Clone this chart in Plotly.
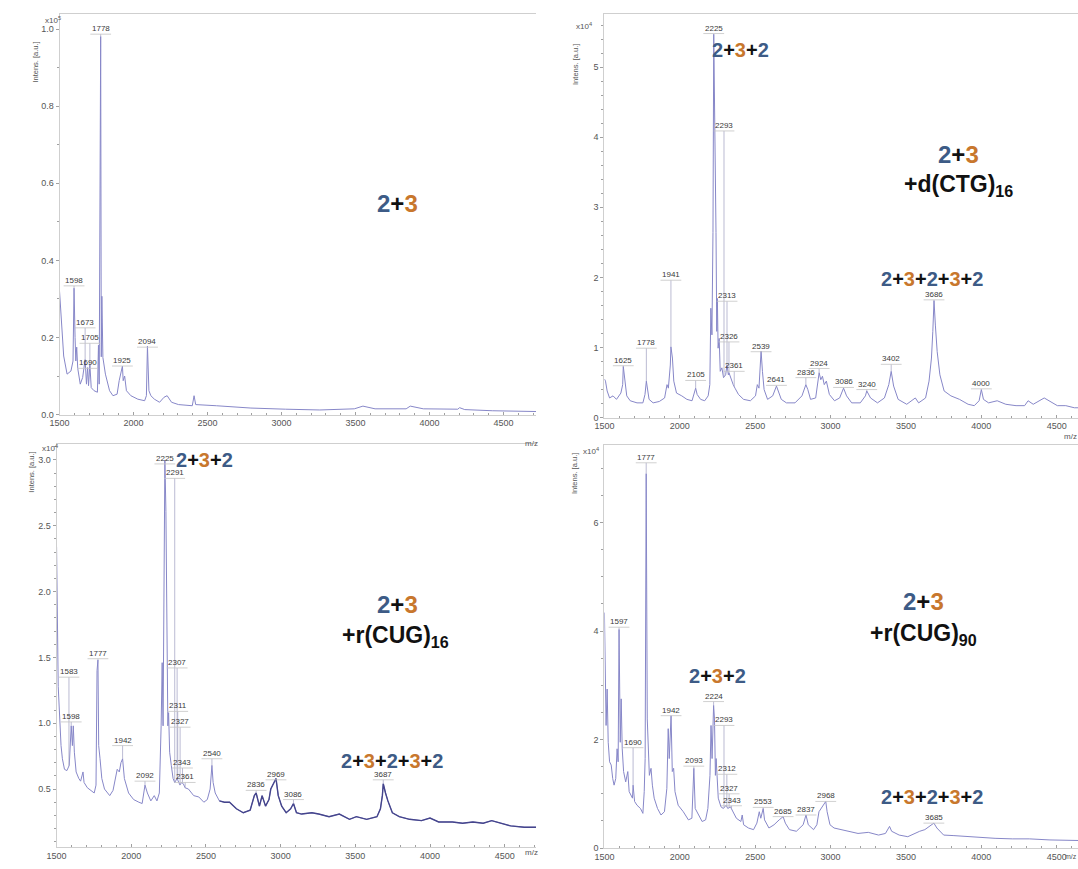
import numpy as np
import plotly.graph_objects as go

W, H = 1078, 869

# ---------------- spectra: m/z and intensity (axis units) ----------------
# panel 1: 2+3  (x10^5)
mz1 = [1500, 1512, 1528, 1551, 1577, 1591, 1598, 1605, 1610, 1616, 1623, 1640, 1656, 1673, 1682,
       1690, 1696, 1705, 1714, 1733, 1756, 1763, 1768, 1778, 1782, 1786, 1793, 1810, 1838, 1861,
       1889, 1903, 1925, 1930, 1940, 1952, 1982, 2029, 2075, 2087, 2094, 2104, 2117, 2141, 2176,
       2206, 2227, 2257, 2304, 2397, 2409, 2420, 2560, 2793, 3026, 3259, 3492, 3550, 3632, 3842,
       3870, 3958, 4191, 4203, 4238, 4424, 4720]
in1 = [0.320, 0.251, 0.152, 0.105, 0.113, 0.139, 0.328, 0.200, 0.139, 0.175, 0.120, 0.079, 0.096,
       0.143, 0.079, 0.122, 0.075, 0.130, 0.070, 0.062, 0.058, 0.180, 0.079, 0.981, 0.150, 0.307,
       0.148, 0.105, 0.062, 0.049, 0.053, 0.088, 0.126, 0.088, 0.100, 0.062, 0.049, 0.040, 0.036,
       0.049, 0.178, 0.062, 0.049, 0.040, 0.032, 0.045, 0.049, 0.032, 0.026, 0.023, 0.049, 0.026,
       0.023, 0.017, 0.014, 0.012, 0.015, 0.022, 0.015, 0.015, 0.022, 0.015, 0.014, 0.018, 0.013,
       0.010, 0.008]

# panel 2: 2+3 + d(CTG)16  (x10^4)
mz2 = [1500, 1507, 1518, 1534, 1557, 1580, 1609, 1621, 1625, 1637, 1648, 1671, 1716, 1755, 1769,
       1778, 1785, 1796, 1823, 1864, 1899, 1915, 1924, 1937, 1941, 1951, 1960, 1978, 2013, 2047,
       2081, 2097, 2105, 2115, 2138, 2165, 2188, 2199, 2206, 2213, 2220, 2225, 2234, 2240, 2245,
       2249, 2254, 2261, 2268, 2279, 2290, 2304, 2313, 2322, 2326, 2343, 2354, 2366, 2389, 2423,
       2468, 2502, 2514, 2525, 2539, 2548, 2559, 2582, 2616, 2641, 2653, 2673, 2707, 2764, 2810,
       2836, 2849, 2867, 2901, 2912, 2924, 2935, 2946, 2958, 2972, 2992, 3026, 3060, 3086, 3106,
       3140, 3197, 3231, 3240, 3265, 3311, 3357, 3386, 3402, 3418, 3448, 3505, 3562, 3584, 3630,
       3653, 3669, 3678, 3686, 3695, 3707, 3725, 3753, 3798, 3855, 3912, 3953, 3985, 4000, 4014,
       4048, 4105, 4162, 4230, 4287, 4310, 4344, 4417, 4447, 4504, 4560, 4617, 4641]
in2 = [0.55, 0.52, 0.38, 0.28, 0.31, 0.26, 0.35, 0.47, 0.73, 0.47, 0.31, 0.24, 0.21, 0.21, 0.33,
       0.52, 0.40, 0.26, 0.21, 0.23, 0.28, 0.47, 0.42, 0.75, 1.01, 0.85, 0.52, 0.35, 0.31, 0.26,
       0.24, 0.35, 0.42, 0.33, 0.26, 0.24, 0.31, 0.47, 1.56, 1.18, 2.64, 5.47, 4.15, 2.64, 1.23,
       1.70, 0.99, 1.13, 0.66, 0.71, 0.57, 0.61, 0.75, 0.61, 0.64, 0.52, 0.47, 0.42, 0.33, 0.26,
       0.24, 0.31, 0.47, 0.42, 0.95, 0.66, 0.40, 0.26, 0.31, 0.45, 0.38, 0.26, 0.21, 0.21, 0.31,
       0.47, 0.40, 0.26, 0.28, 0.47, 0.64, 0.54, 0.59, 0.47, 0.52, 0.33, 0.24, 0.28, 0.42, 0.31,
       0.21, 0.21, 0.31, 0.38, 0.28, 0.21, 0.28, 0.47, 0.66, 0.45, 0.26, 0.19, 0.28, 0.21, 0.28,
       0.52, 0.85, 1.23, 1.67, 1.32, 0.94, 0.61, 0.38, 0.31, 0.26, 0.19, 0.17, 0.24, 0.40, 0.26,
       0.21, 0.24, 0.19, 0.17, 0.17, 0.24, 0.19, 0.28, 0.24, 0.17, 0.17, 0.14, 0.14]

# panel 3: 2+3 + r(CUG)16  (x10^4)
mz3 = [1500, 1505, 1511, 1530, 1539, 1553, 1569, 1585, 1592, 1598, 1606, 1612, 1619, 1631, 1649,
       1661, 1677, 1684, 1706, 1729, 1752, 1764, 1771, 1777, 1782, 1791, 1803, 1821, 1856, 1878,
       1906, 1920, 1931, 1942, 1954, 1982, 2016, 2051, 2073, 2092, 2108, 2131, 2154, 2172, 2188,
       2200, 2207, 2213, 2225, 2232, 2239, 2245, 2250, 2257, 2268, 2280, 2291, 2307, 2326, 2337,
       2349, 2360, 2383, 2418, 2452, 2486, 2509, 2528, 2540, 2548, 2562, 2590, 2624, 2658, 2704,
       2750, 2796, 2824, 2836, 2858, 2876, 2899, 2922, 2934, 2957, 2969, 2984, 3007, 3037, 3067,
       3086, 3106, 3140, 3209, 3255, 3324, 3393, 3461, 3507, 3576, 3645, 3668, 3681, 3687, 3702,
       3718, 3748, 3794, 3863, 3943, 4000, 4058, 4150, 4218, 4287, 4356, 4413, 4471, 4540, 4631,
       4710]
in3 = [2.34, 1.48, 1.28, 0.83, 0.73, 0.65, 0.64, 0.68, 0.83, 0.98, 0.83, 0.98, 0.78, 0.63, 0.58,
       0.56, 0.63, 0.55, 0.51, 0.49, 0.47, 0.53, 1.40, 1.48, 0.83, 0.73, 0.58, 0.50, 0.45, 0.49,
       0.65, 0.63, 0.70, 0.73, 0.58, 0.47, 0.42, 0.40, 0.39, 0.53, 0.47, 0.41, 0.45, 0.41, 0.47,
       0.98, 1.46, 0.98, 3.00, 2.61, 1.76, 0.98, 1.08, 0.78, 0.68, 0.58, 0.55, 0.58, 0.53, 0.55,
       0.54, 0.51, 0.50, 0.45, 0.44, 0.40, 0.42, 0.50, 0.68, 0.55, 0.47, 0.41, 0.40, 0.40, 0.35,
       0.32, 0.34, 0.45, 0.47, 0.37, 0.45, 0.37, 0.42, 0.50, 0.55, 0.58, 0.45, 0.37, 0.32, 0.35,
       0.39, 0.32, 0.31, 0.32, 0.31, 0.29, 0.31, 0.27, 0.29, 0.27, 0.29, 0.35, 0.45, 0.54, 0.47,
       0.41, 0.32, 0.29, 0.27, 0.26, 0.28, 0.25, 0.25, 0.24, 0.25, 0.24, 0.26, 0.24, 0.22, 0.21,
       0.21]

# panel 4: 2+3 + r(CUG)90  (x10^4)
mz4 = [1500, 1505, 1511, 1518, 1525, 1534, 1545, 1555, 1564, 1575, 1584, 1591, 1597, 1605, 1611,
       1618, 1627, 1641, 1655, 1664, 1675, 1686, 1690, 1700, 1716, 1739, 1755, 1764, 1770, 1777,
       1784, 1791, 1798, 1809, 1818, 1830, 1852, 1875, 1898, 1914, 1923, 1930, 1942, 1950, 1959,
       1968, 1989, 2023, 2057, 2080, 2093, 2102, 2125, 2148, 2171, 2186, 2200, 2207, 2214, 2224,
       2230, 2236, 2241, 2248, 2255, 2273, 2289, 2307, 2318, 2336, 2352, 2375, 2405, 2414, 2423,
       2455, 2489, 2511, 2527, 2537, 2553, 2562, 2591, 2625, 2659, 2685, 2700, 2727, 2773, 2818,
       2837, 2852, 2887, 2909, 2923, 2937, 2950, 2968, 2977, 2996, 3023, 3068, 3114, 3182, 3250,
       3318, 3364, 3391, 3405, 3455, 3512, 3557, 3591, 3625, 3659, 3685, 3705, 3750, 3818, 3909,
       4000, 4091, 4205, 4318, 4455, 4569, 4641]
in4 = [4.34, 3.48, 2.26, 2.93, 1.95, 1.59, 1.53, 1.28, 1.16, 1.28, 1.83, 1.59, 4.03, 1.95, 2.75,
       1.83, 1.41, 1.22, 1.41, 1.04, 0.98, 0.92, 1.16, 0.86, 0.79, 0.73, 0.64, 1.04, 1.65, 6.90,
       2.38, 1.65, 1.34, 1.47, 1.16, 0.92, 0.73, 0.61, 0.67, 1.10, 2.20, 1.65, 2.44, 1.41, 1.47,
       1.04, 0.79, 0.67, 0.52, 0.55, 1.47, 0.73, 0.61, 0.49, 0.52, 0.73, 1.34, 2.26, 1.65, 2.63,
       2.38, 1.34, 1.65, 1.16, 0.92, 0.76, 0.73, 0.79, 0.73, 0.76, 0.67, 0.55, 0.49, 0.61, 0.43,
       0.37, 0.34, 0.46, 0.67, 0.55, 0.73, 0.52, 0.37, 0.43, 0.52, 0.58, 0.46, 0.34, 0.31, 0.43,
       0.61, 0.43, 0.34, 0.43, 0.67, 0.73, 0.79, 0.86, 0.67, 0.43, 0.37, 0.34, 0.31, 0.27, 0.29,
       0.24, 0.27, 0.40, 0.31, 0.24, 0.21, 0.27, 0.31, 0.34, 0.40, 0.46, 0.37, 0.24, 0.23, 0.21,
       0.20, 0.18, 0.17, 0.17, 0.15, 0.15, 0.14]

# ---------------- peak labels (m/z) and label heights ----------------
pk1 = [1598, 1673, 1690, 1705, 1778, 1925, 2094]
pk1_y = [0.334, 0.225, 0.120, 0.185, 0.987, 0.126, 0.175]

pk2 = [1625, 1778, 1941, 2105, 2225, 2293, 2313, 2326, 2361, 2539, 2641, 2836, 2924, 3086,
       3240, 3402, 3686, 4000]
pk2_y = [0.74, 0.99, 1.96, 0.53, 5.48, 4.09, 1.66, 1.08, 0.66, 0.94, 0.46, 0.57, 0.70, 0.43,
         0.40, 0.76, 1.68, 0.41]

pk3 = [1583, 1598, 1777, 1942, 2092, 2225, 2291, 2307, 2311, 2327, 2343, 2361, 2540, 2836,
       2969, 3086, 3687]
pk3_y = [1.35, 1.01, 1.49, 0.83, 0.56, 2.97, 2.86, 1.42, 1.09, 0.97, 0.66, 0.55, 0.73, 0.49,
         0.57, 0.42, 0.57]

pk4 = [1597, 1690, 1777, 1942, 2093, 2224, 2293, 2312, 2327, 2343, 2553, 2685, 2837, 2968, 3685]
pk4_y = [4.07, 1.85, 7.10, 2.44, 1.51, 2.70, 2.26, 1.36, 1.00, 0.78, 0.75, 0.58, 0.61, 0.86, 0.46]

# ---------------- panel geometry (pixels) ----------------
panels = [
    dict(mz=mz1, it=in1, pk=pk1, pky=pk1_y, xpx=(50, 531), ypx=(14, 417),
         xr=(1500, 4720), yr=(0, 1.0395), ytv=[0, 0.2, 0.4, 0.6, 0.8, 1.0], yfmt=".1f",
         ymin=0.1),
    dict(mz=mz2, it=in2, pk=pk2, pky=pk2_y, xpx=(600, 1078), ypx=(14, 420),
         xr=(1500, 4641), yr=(0, 5.76), ytv=[0, 1, 2, 3, 4, 5], yfmt="d",
         ymin=0.2),
    dict(mz=mz3, it=in3, pk=pk3, pky=pk3_y, xpx=(47, 531), ypx=(447, 852),
         xr=(1500, 4710), yr=(0.059, 3.118), ytv=[0.5, 1.0, 1.5, 2.0, 2.5, 3.0], yfmt=".1f",
         ymin=0.1),
    dict(mz=mz4, it=in4, pk=pk4, pky=pk4_y, xpx=(600, 1078), ypx=(448, 853),
         xr=(1500, 4641), yr=(0, 7.42), ytv=[0, 2, 4, 6], yfmt="d",
         ymin=0.5),
]

LINE = "#8787c8"
AXC = "#cfcfcf"
TICKC = "#a0a0a0"
TXT = "#555555"
FONT = "Liberation Sans"

fig = go.Figure()
shapes = []
annotations = []

for i, p in enumerate(panels, start=1):
    xs = "" if i == 1 else str(i)
    xa, ya = "x" + xs, "y" + xs
    fig.add_trace(go.Scatter(x=p["mz"], y=p["it"], mode="lines", xaxis=xa, yaxis=ya,
                             line=dict(color=LINE, width=1), hoverinfo="skip",
                             showlegend=False))
    if i == 3:
        # dense noisy tail drawn heavier
        mz_arr = np.array(p["mz"])
        sel = mz_arr >= 2580
        fig.add_trace(go.Scatter(x=mz_arr[sel], y=np.array(p["it"])[sel], mode="lines",
                                 xaxis=xa, yaxis=ya, line=dict(color="#45458c", width=1.4),
                                 hoverinfo="skip", showlegend=False))

    xdom = [p["xpx"][0] / W, p["xpx"][1] / W]
    ydom = [1 - p["ypx"][1] / H, 1 - p["ypx"][0] / H]
    fig.layout["xaxis" + xs] = dict(
        domain=xdom, range=list(p["xr"]), anchor=ya, showline=True, linecolor=AXC,
        linewidth=1, mirror=True, ticks="inside", ticklen=3, tickcolor=TICKC,
        tickvals=[1500, 2000, 2500, 3000, 3500, 4000, 4500], tickformat="d",
        tickfont=dict(size=9, color=TXT, family=FONT), showgrid=False, zeroline=False,
        minor=dict(dtick=100, tick0=1500, ticks="inside", ticklen=2, tickcolor=TICKC),
        fixedrange=True)
    fig.layout["yaxis" + xs] = dict(
        domain=ydom, range=list(p["yr"]), anchor=xa, showline=True, linecolor=AXC,
        linewidth=1, ticks="outside", ticklen=3, tickcolor=TICKC, tickvals=p["ytv"],
        tickformat=p["yfmt"], tickfont=dict(size=9, color=TXT, family=FONT),
        showgrid=False, zeroline=False,
        minor=dict(dtick=p["ymin"], ticks="outside", ticklen=2, tickcolor=TICKC),
        fixedrange=True)

    # peak labels with underline and leader line
    ppu = (p["xpx"][1] - p["xpx"][0]) / (p["xr"][1] - p["xr"][0])
    dx = 10.5 / ppu
    for m, ly in zip(p["pk"], p["pky"]):
        base = float(np.interp(m, p["mz"], p["it"]))
        if ly > base:
            shapes.append(dict(type="line", xref=xa, yref=ya, x0=m, x1=m, y0=base, y1=ly,
                               line=dict(color="#a9a9c8", width=0.8)))
        shapes.append(dict(type="line", xref=xa, yref=ya, x0=m - dx, x1=m + dx, y0=ly, y1=ly,
                           line=dict(color="#c4c4c4", width=0.8)))
        annotations.append(dict(x=m, y=ly, xref=xa, yref=ya, text=str(m), showarrow=False,
                                yanchor="bottom", borderpad=0,
                                font=dict(size=8, color="#3a3a3a", family=FONT)))


def paper(xp, yp):
    return xp / W, 1 - yp / H


# ---------------- axis captions ----------------
caps = [
    # (exponent position, "Intens." position, "m/z" position, exponent, m/z size)
    ((33, 13), (19, 40), (526, 446), "5", 8),
    ((579, 19), (571, 42), (1078, 439), "4", 8),
    ((30, 451), (15, 475), (526, 863), "4", 8),
    ((586, 454), (570, 476), (1078, 866), "4", 7),
]
for (ex, ey), (ix, iy), (mx, my), e, ms in caps:
    px, py = paper(ex, ey)
    annotations.append(dict(x=px, y=py, xref="paper", yref="paper", showarrow=False,
                            text="x10<sup>%s</sup>" % e,
                            font=dict(size=8, color=TXT, family=FONT)))
    px, py = paper(ix, iy)
    annotations.append(dict(x=px, y=py, xref="paper", yref="paper", showarrow=False,
                            text="Intens. [a.u.]", textangle=-90,
                            font=dict(size=7.5, color=TXT, family=FONT)))
    px, py = paper(mx, my)
    anchor = "right" if mx >= W else "center"
    annotations.append(dict(x=px, y=py, xref="paper", yref="paper", showarrow=False,
                            text="m/z", xanchor=anchor, borderpad=0,
                            font=dict(size=ms, color=TXT, family=FONT)))

# ---------------- compound labels ----------------
BLUE = "#3d5b86"
ORANGE = "#c8772d"


def combo(s):
    out = []
    for ch in s:
        col = BLUE if ch == "2" else ORANGE if ch == "3" else "#111111"
        out.append('<span style="color:%s">%s</span>' % (col, ch))
    return "<b>" + "".join(out) + "</b>"


big = [
    (combo("2+3"), 391, 205, 24),
    (combo("2+3+2"), 737, 50, 20),
    (combo("2+3"), 957, 155, 24),
    ("<b>+d(CTG)<sub>16</sub></b>", 957, 187, 23),
    (combo("2+3+2+3+2"), 931, 281, 20),
    (combo("2+3+2"), 196, 463, 20),
    (combo("2+3"), 391, 608, 24),
    ("<b>+r(CUG)<sub>16</sub></b>", 389, 640, 23),
    (combo("2+3+2+3+2"), 386, 765, 20),
    (combo("2+3"), 922, 605, 24),
    ("<b>+r(CUG)<sub>90</sub></b>", 922, 638, 23),
    (combo("2+3+2"), 714, 680, 20),
    (combo("2+3+2+3+2"), 931, 802, 20),
]
for t, xp, yp, fs in big:
    px, py = paper(xp, yp)
    annotations.append(dict(x=px, y=py, xref="paper", yref="paper", showarrow=False, text=t,
                            xanchor="center", yanchor="middle",
                            font=dict(size=fs, color="#111111", family=FONT)))

fig.update_layout(width=W, height=H, margin=dict(l=0, r=0, t=0, b=0),
                  paper_bgcolor="white", plot_bgcolor="white",
                  shapes=shapes, annotations=annotations, showlegend=False,
                  font=dict(family=FONT))

fig.write_html("out.html", config={"displayModeBar": False})
